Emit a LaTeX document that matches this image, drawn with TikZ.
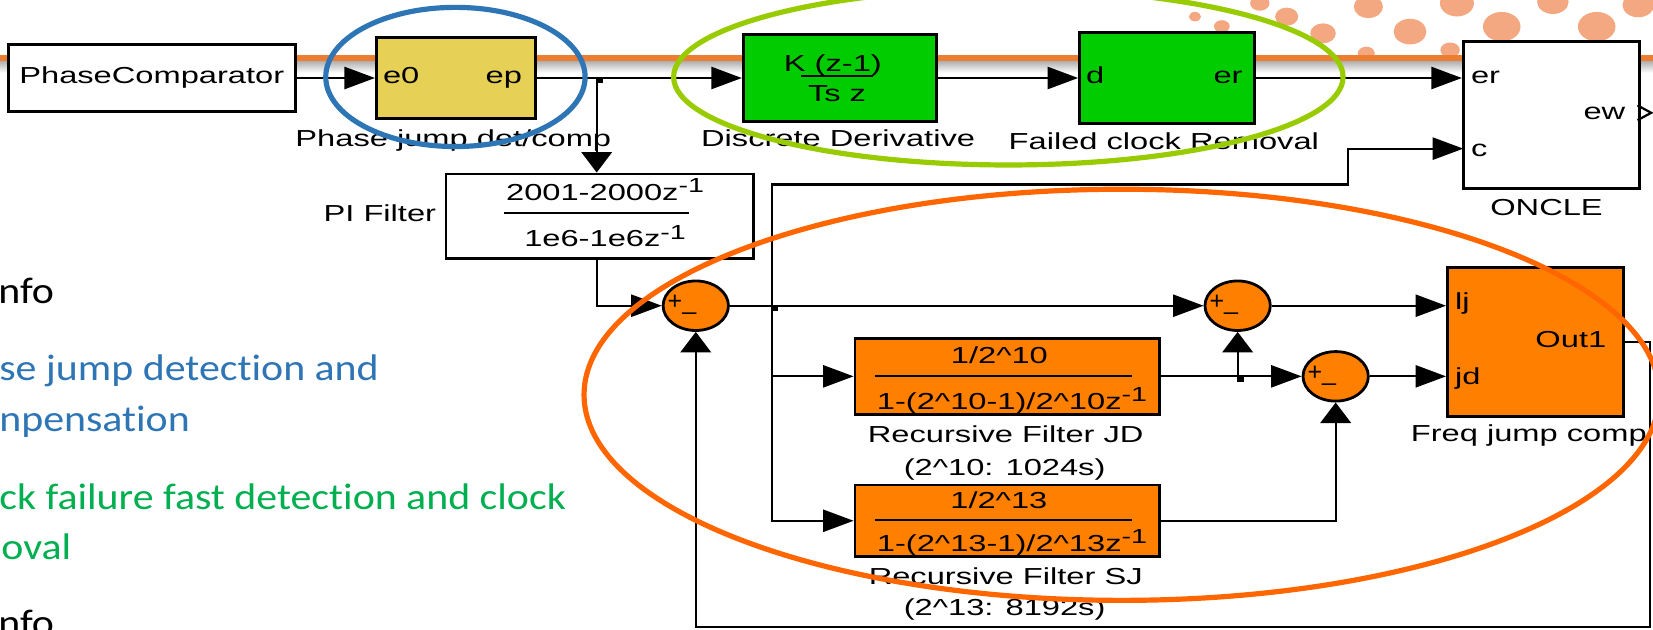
\documentclass[tikz,border=0pt]{standalone}
\usepackage{fontspec}
\usepackage{graphicx}
\setmainfont{Liberation Sans}
\newfontfamily\slidefont[Ligatures=NoCommon]{Carlito}
\usetikzlibrary{arrows.meta,shapes.geometric,calc}

\definecolor{pjyellow}{RGB}{230,208,85}
\definecolor{simgreen}{RGB}{0,204,0}
\definecolor{simorange}{RGB}{255,128,0}
\definecolor{ringblue}{RGB}{46,117,182}
\definecolor{ringgreen}{RGB}{153,204,0}
\definecolor{ringorange}{RGB}{255,102,0}
\definecolor{txtblue}{RGB}{46,117,182}
\definecolor{txtgreen}{RGB}{0,176,80}
\definecolor{bandorange}{RGB}{237,125,49}
\definecolor{dotorange}{RGB}{244,168,130}

\newcommand{\slk}[1]{\scalebox{1.41}[1]{#1}}
\newcommand{\sld}[1]{\scalebox{1.13}[1]{#1}}
\newcommand{\mone}{\raisebox{4pt}{\fontsize{11}{13}\selectfont -1}}
\newcommand{\sgn}{{\fontsize{13.5}{15}\selectfont +\_}}

\begin{document}
\begin{tikzpicture}[x=0.02cm, y=-0.02cm,
		simtxt/.style={font=\fontsize{12.5}{15}\selectfont, inner sep=0pt},
		lbl/.style={simtxt, anchor=base},
		slide/.style={font=\slidefont\fontsize{20}{24}\selectfont, inner sep=0pt, anchor=base west},
		blk/.style={simtxt, draw, line width=1.5pt},
		sumblk/.style={ellipse, draw, line width=1.5pt, fill=simorange, inner sep=0pt, minimum width=1.24cm, minimum height=0.94cm},
		harr/.style={line width=1.2pt, -{Triangle[length=0.58cm,width=0.42cm]}},
		varr/.style={line width=1.2pt, -{Triangle[length=0.39cm,width=0.58cm]}},
		ring/.style={line width=2.8pt}]
		\useasboundingbox (0,0) rectangle (1568,597);
		\fill[white] (0,0) rectangle (1568,597);
		\foreach \x/\y/\r in {1133.5/15.8/5, 1159/25/6.5, 1195/3/8, 1220.5/15.8/9.5, 1255/31.6/10.5, 1298/6.3/12, 1337.5/30/13.5, 1296/50.6/7, 1382/3/14, 1424.5/25.3/15.5, 1473/1.6/13, 1514.6/25.3/15.5, 1554/4.7/13, 1375.5/47.5/8}
			\fill[dotorange] (\x,\y) ellipse ({1.15*\r} and {0.9*\r});
		\fill[bandorange] (0,52.5) rectangle (1568,58.5);
		\shade[top color=gray!60, bottom color=white] (0,58.5) rectangle (1568,69);

		\node[slide] (info1) at (-2,288) {\sld{nfo}};
		\node[slide, text=txtblue] (pjtxt1) at (-1,360.5) {\sld{se jump detection and}};
		\node[slide, text=txtblue] (pjtxt2) at (-1,409.5) {\sld{npensation}};
		\node[slide, text=txtgreen] (cftxt1) at (-1,483) {\sld{ck failure fast detection and clock}};
		\node[slide, text=txtgreen] (cftxt2) at (1,531) {\sld{oval}};
		\node[slide] (info2) at (-2,603) {\sld{nfo}};

		\node[blk, fill=white, minimum width=5.44cm, minimum height=1.28cm] (pc) at (144,74) {\slk{PhaseComparator}};

		\node[blk, fill=pjyellow, minimum width=3.02cm, minimum height=1.54cm] (pj) at (432.5,74) {};
		\node[lbl, anchor=base west] (pje0) at (363,79) {\slk{e0}};
		\node[lbl, anchor=base east] (pjep) at (495.5,79) {\slk{ep}};
		\node[lbl] (pjname) at (430,139) {\slk{Phase jump det/comp}};

		\node[blk, fill=simgreen, minimum width=3.66cm, minimum height=1.64cm] (dd) at (796.5,74) {};
		\node[lbl] (ddnum) at (790,68) {\slk{K (z-1)}};
		\node[lbl] (ddden) at (794,96.5) {\slk{Ts z}};
		\draw[line width=1.2pt] (760,72) -- (828,72);
		\node[lbl] (ddname) at (795,139) {\slk{Discrete Derivative}};

		\node[blk, fill=simgreen, minimum width=3.32cm, minimum height=1.74cm] (fc) at (1107,74) {};
		\node[lbl, anchor=base west] (fcd) at (1030,79) {\slk{d}};
		\node[lbl, anchor=base east] (fcer) at (1179,79) {\slk{er}};
		\node[lbl] (fcname) at (1104,142) {\slk{Failed clock Removal}};

		\node[blk, fill=white, minimum width=3.34cm, minimum height=2.8cm] (oncle) at (1471.5,109) {};
		\node[lbl, anchor=base west] (oncleer) at (1395,79) {\slk{er}};
		\node[lbl, anchor=base west] (onclec) at (1395,148.6) {\slk{c}};
		\node[lbl, anchor=base east] (oncleew) at (1542,113) {\slk{ew}};
		\node[lbl] (onclename) at (1467,204) {\slk{ONCLE}};
		\draw[line width=1.2pt] ($(oncle.east)+(-3,-9)$) -- ($(oncle.east)+(10,-2)$) -- ($(oncle.east)+(-3,5)$);

		\node[blk, fill=white, minimum width=5.84cm, minimum height=1.6cm] (pi) at (569,205) {};
		\node[lbl] (pinum) at (574,190) {\slk{2001-2000z\mone}};
		\node[lbl] (piden) at (574,234) {\slk{1e6-1e6z\mone}};
		\draw[line width=1.2pt] (478,202) -- (654,202);
		\node[lbl, anchor=base east] (piname) at (414,210) {\slk{PI Filter}};

		\node[sumblk] (s1) at (660,290) {};
		\node[sumblk] (s2) at (1174,290) {};
		\node[sumblk] (s3) at (1267,357) {};
		\node[lbl, anchor=base west] (s1sg) at ($(s1)+(-27,4)$) {\sgn};
		\node[lbl, anchor=base west] (s2sg) at ($(s2)+(-27,4)$) {\sgn};
		\node[lbl, anchor=base west] (s3sg) at ($(s3)+(-27,4)$) {\sgn};

		\node[blk, fill=simorange, minimum width=5.78cm, minimum height=1.44cm] (jd) at (955.5,357) {};
		\node[lbl] (jdnum) at (948,344.6) {\slk{1/2\textasciicircum 10}};
		\draw[line width=1.2pt] (830,357) -- (1074,357);
		\node[lbl] (jdden) at (960,388) {\slk{1-(2\textasciicircum 10-1)/2\textasciicircum 10z\mone}};
		\node[lbl] (jdname) at (954,420) {\slk{Recursive Filter JD}};
		\node[lbl] (jdtime) at (953,450.6) {\slk{(2\textasciicircum 10: 1024s)}};

		\node[blk, fill=simorange, minimum width=5.78cm, minimum height=1.36cm] (sj) at (955.5,494) {};
		\node[lbl] (sjnum) at (947.5,482) {\slk{1/2\textasciicircum 13}};
		\draw[line width=1.2pt] (830,493) -- (1074,493);
		\node[lbl] (sjden) at (960,523) {\slk{1-(2\textasciicircum 13-1)/2\textasciicircum 13z\mone}};
		\node[lbl] (sjname) at (954,554) {\slk{Recursive Filter SJ}};
		\node[lbl] (sjtime) at (953,583.4) {\slk{(2\textasciicircum 13: 8192s)}};

		\node[blk, fill=simorange, minimum width=3.34cm, minimum height=2.82cm] (fjc) at (1456.5,324.5) {};
		\node[lbl, anchor=base west] (fjclj) at (1380,294) {\slk{lj}};
		\node[lbl, anchor=base west] (fjcjd) at (1380,365) {\slk{jd}};
		\node[lbl, anchor=base east] (fjcout) at (1524,330) {\slk{Out1}};
		\node[lbl, anchor=base west] (fjcname) at (1338,419) {\slk{Freq jump comp}};

		\coordinate (jn1) at (566,74);
		\coordinate (jn2) at (732,290);
		\coordinate (jn3) at (1174,357);
		\coordinate (cstep) at (1279,175);
		\coordinate (cport) at (1388,141);
		\coordinate (fbr) at (1565.5,324.5);
		\coordinate (fbb) at (1565.5,595);

		\draw[harr] (pc) -- (pj);
		\draw[harr] (pj) -- (dd);
		\draw[varr] (jn1) -- (jn1 |- pi.north);
		\draw[harr] (dd) -- (fc);
		\draw[harr] (fc.east) -- (fc.east -| oncle.west);
		\draw[harr] (jn1 |- pi.south) |- (s1.west);
		\draw[harr] (s1) -- (s2);
		\draw[harr] (jn2) |- (cstep) |- (cport);
		\draw[harr] (jn2) |- (sj.west);
		\draw[harr] (jn2 |- jd.west) -- (jd.west);
		\draw[harr] (jd) -- (s3);
		\draw[varr] (jn3) -- (s2.south);
		\draw[varr] (sj.east) -| (s3.south);
		\draw[harr] (s2.east) -- (s2.east -| fjc.west);
		\draw[harr] (s3.east) -- (s3.east -| fjc.west);
		\draw[varr] (fjc.east) -- (fbr) -- (fbb) -| (s1.south);
		\foreach \j in {jn1,jn2,jn3}
			\fill ($(\j)+(-1,-1)$) rectangle ($(\j)+(6,5)$);

		\draw[ring, ringblue] (432,73) ellipse (123 and 66);
		\draw[ring, ringgreen] (956.5,73) ellipse (317.5 and 83.5);
		\draw[ring, ringorange] (1064,374.5) ellipse (510 and 195);
\end{tikzpicture}
\end{document}
